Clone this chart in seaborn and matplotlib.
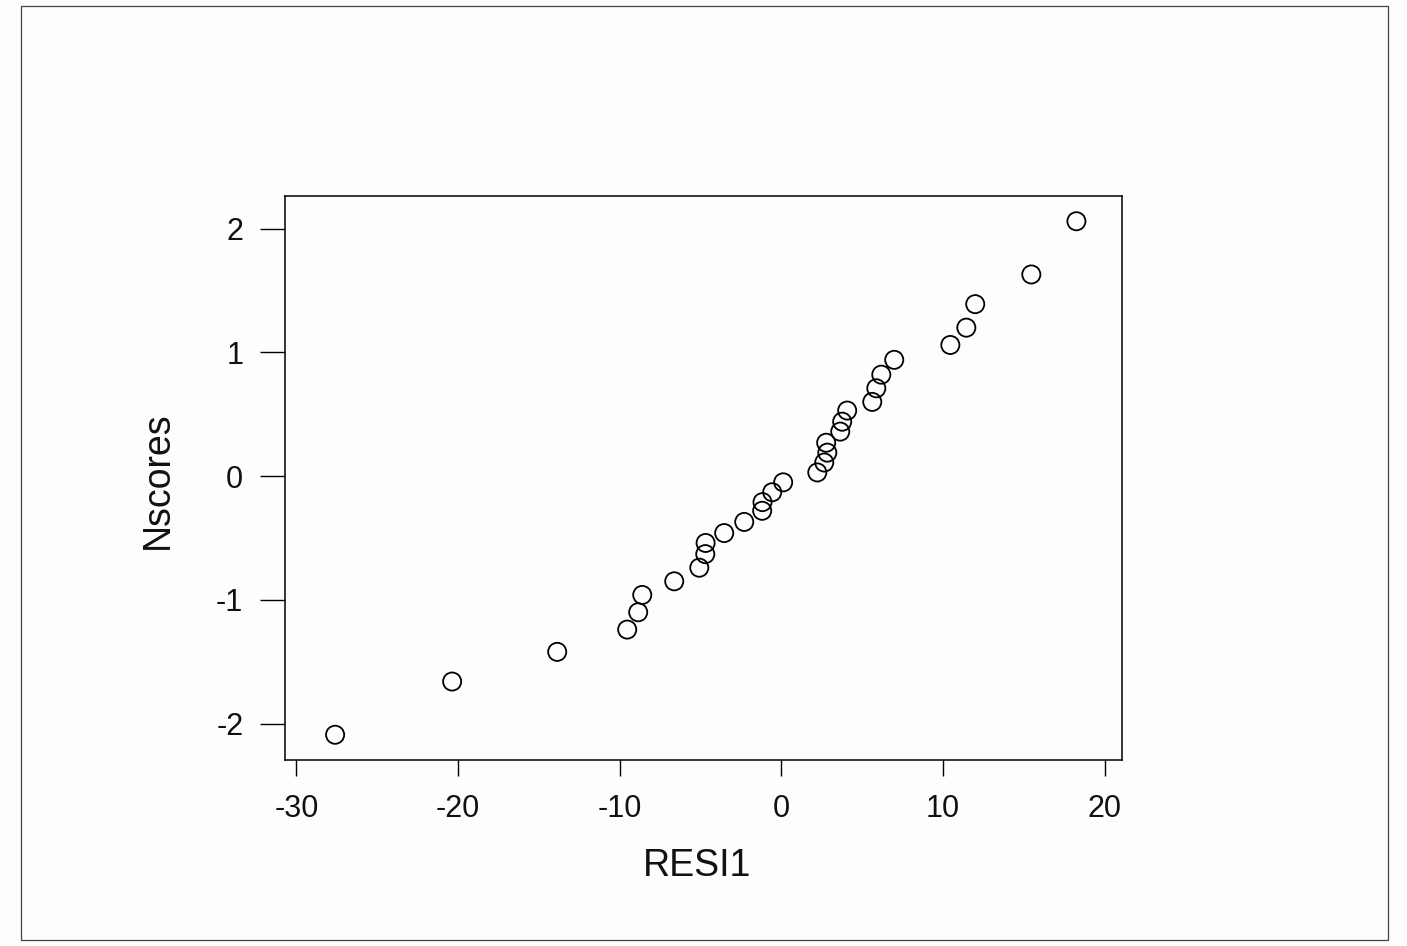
import matplotlib
matplotlib.use("Agg")
import matplotlib.pyplot as plt
import seaborn as sns
import pandas as pd
from matplotlib.patches import Rectangle

# Data (residuals vs normal scores)
resi1 = [-27.60, -20.36, -13.86, -9.53, -8.85, -8.60, -6.62, -5.07, -4.70, -4.68,
         -3.53, -2.29, -1.18, -1.16, -0.56, 0.12, 2.23, 2.66, 2.85, 2.78,
         3.65, 3.77, 4.08, 5.63, 5.88, 6.19, 6.99, 10.46, 11.45, 12.00,
         15.47, 18.26]
nscores = [-2.09, -1.66, -1.42, -1.24, -1.10, -0.96, -0.85, -0.74, -0.63, -0.54,
           -0.46, -0.37, -0.28, -0.21, -0.13, -0.05, 0.03, 0.11, 0.19, 0.27,
           0.36, 0.44, 0.53, 0.60, 0.71, 0.82, 0.94, 1.06, 1.20, 1.39,
           1.63, 2.06]
x_ticks = [-30, -20, -10, 0, 10, 20]
y_ticks = [-2, -1, 0, 1, 2]
x_label = "RESI1"
y_label = "Nscores"

df = pd.DataFrame({"RESI1": resi1, "Nscores": nscores})

sns.set_theme(style="white")
plt.rcParams["font.family"] = ["Liberation Sans", "DejaVu Sans"]
plt.rcParams["axes.unicode_minus"] = False

W, H = 1407, 946
fig = plt.figure(figsize=(W / 100, H / 100), dpi=100)
fig.patch.set_facecolor("#fdfdfd")

left, right, top, bottom = 285, 1122, 196, 760
ax = fig.add_axes([left / W, 1 - bottom / H, (right - left) / W, (bottom - top) / H])
ax.set_facecolor("#fdfdfd")

sns.scatterplot(data=df, x="RESI1", y="Nscores", ax=ax, marker="o", s=170,
                facecolors="none", edgecolor="black", linewidth=1.3)

ax.set_xlim(-30.7, 21.08)
ax.set_ylim(-2.294, 2.264)
ax.set_xticks(x_ticks)
ax.set_yticks(y_ticks)
ax.set_xticklabels([str(t) for t in x_ticks])
ax.set_yticklabels([str(t) for t in y_ticks])

for s in ax.spines.values():
    s.set_visible(True)
    s.set_color("black")
    s.set_linewidth(1.1)

ax.tick_params(axis="x", direction="out", length=11.5, width=1.0, color="black",
               labelsize=22, pad=13, labelcolor="#111111", bottom=True)
ax.tick_params(axis="y", direction="out", length=18, width=1.0, color="black",
               labelsize=22, pad=12, labelcolor="#111111", left=True)

ax.set_xlabel(x_label, fontsize=27, color="#111111")
ax.set_ylabel(y_label, fontsize=27, color="#111111")
ax.xaxis.label.set_va("center")
ax.xaxis.set_label_coords((697 - left) / (right - left), (bottom - 866) / (bottom - top))
ax.yaxis.label.set_va("center")
ax.yaxis.set_label_coords((158 - left) / (right - left), (bottom - 480) / (bottom - top))

# outer page frame
fig.patches.append(Rectangle((21 / W, 1 - 940 / H), (1388 - 21) / W, (940 - 6) / H,
                             transform=fig.transFigure, fill=False,
                             edgecolor="#444444", linewidth=0.9))

fig.savefig("out.png", dpi=100, facecolor=fig.get_facecolor())
